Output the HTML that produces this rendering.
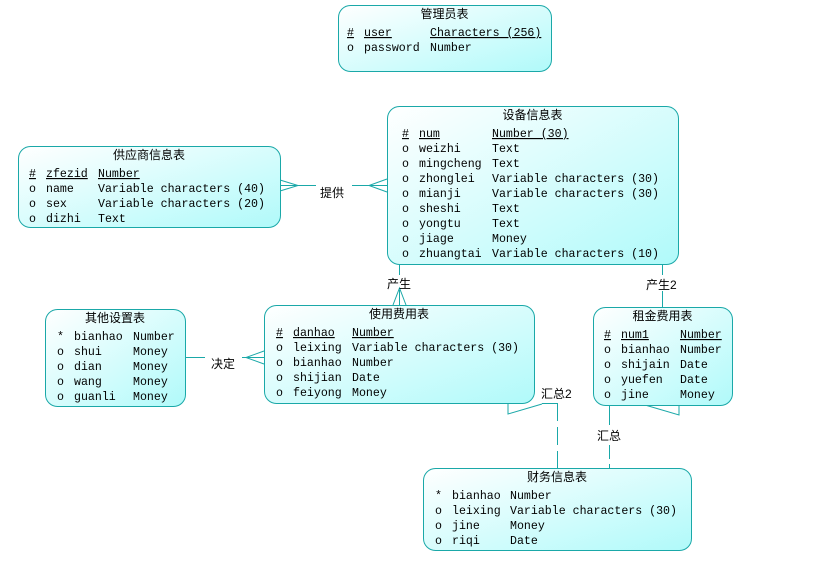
<!DOCTYPE html>
<html><head><meta charset="utf-8"><style>
html,body{margin:0;padding:0;background:#fff;width:815px;height:562px;overflow:hidden}
svg text{font-family:"Liberation Mono","Noto Sans CJK SC",monospace;font-size:11.6px;fill:#000}
svg text.t{font-family:"Liberation Sans","Noto Sans CJK SC",sans-serif;font-size:12px}
</style></head><body>
<svg id="s" width="815" height="562" xmlns="http://www.w3.org/2000/svg">
<defs><linearGradient id="g" x1="0" y1="0" x2="1" y2="1"><stop offset="0" stop-color="#ffffff"/><stop offset="1" stop-color="#b0fafa"/></linearGradient></defs>
<g stroke="#1aa8a8" fill="none" stroke-width="1">
<!-- 提供 -->
<line x1="280" y1="185.5" x2="316" y2="185.5"/><line x1="352" y1="185.5" x2="387" y2="185.5"/>
<polyline points="280,180 298,185.5 280,191"/><line x1="280" y1="185.5" x2="298" y2="185.5"/>
<polyline points="387,179 369,185.5 387,192"/>
<!-- 产生 -->
<line x1="399.5" y1="264" x2="399.5" y2="275"/><line x1="399.5" y1="290" x2="399.5" y2="305"/>
<polyline points="393,305 399.5,288 406,305"/>
<!-- 产生2 -->
<line x1="662.5" y1="264" x2="662.5" y2="275"/><line x1="662.5" y1="291" x2="662.5" y2="307"/>
<!-- 决定 -->
<line x1="185" y1="357.5" x2="205" y2="357.5"/><line x1="242" y1="357.5" x2="264" y2="357.5"/>
<polyline points="264,351 246,357.5 264,364"/>
<!-- 汇总2 -->
<polyline points="508,403 508,414 542,404"/><line x1="542" y1="403.5" x2="557" y2="403.5"/>
<line x1="557.5" y1="403" x2="557.5" y2="468" stroke-dasharray="18,6"/>
<!-- 汇总 -->
<line x1="609.5" y1="405" x2="609.5" y2="425"/><line x1="609.5" y1="445" x2="609.5" y2="468" stroke-dasharray="14,5"/>
<polyline points="645,405 679,415 679,405"/>
</g>
<text class="t" x="320" y="197">提供</text>
<text class="t" x="387" y="288">产生</text>
<text class="t" x="646" y="289">产生2</text>
<text class="t" x="211" y="368">决定</text>
<text class="t" x="541" y="398">汇总2</text>
<text class="t" x="597" y="440">汇总</text>
</svg>
<script>
var s=document.getElementById('s');
function E(x,y,w,h,title,cols,rows){
 var r='<rect x="'+(x+.5)+'" y="'+(y+.5)+'" width="'+w+'" height="'+h+'" rx="12" ry="12" fill="url(#g)" stroke="#1aa8a8"/>';
 r+='<text class="t" x="'+(x+w/2)+'" y="'+(y+13)+'" text-anchor="middle">'+title+'</text>';
 rows.forEach(function(rw,i){var yy=y+31+15*i;
  for(var k=0;k<3;k++){var u=(rw[0]=='#');
   r+='<text x="'+cols[k]+'" y="'+yy+'"'+(u?' text-decoration="underline"':'')+' xml:space="preserve">'+rw[k]+'</text>';
   if(u&&rw[k]!=''){}
  }});
 s.insertAdjacentHTML('beforeend',r);
}
E(338,5,213,66,'管理员表',[347,364,430],[['#','user','Characters (256)'],['o','password','Number']]);
E(387,106,291,158,'设备信息表',[402,419,492],[['#','num','Number (30)'],['o','weizhi','Text'],['o','mingcheng','Text'],['o','zhonglei','Variable characters (30)'],['o','mianji','Variable characters (30)'],['o','sheshi','Text'],['o','yongtu','Text'],['o','jiage','Money'],['o','zhuangtai','Variable characters (10)']]);
E(18,146,262,81,'供应商信息表',[29,46,98],[['#','zfezid','Number'],['o','name','Variable characters (40)'],['o','sex','Variable characters (20)'],['o','dizhi','Text']]);
E(45,309,140,97,'其他设置表',[57,74,133],[['*','bianhao','Number'],['o','shui','Money'],['o','dian','Money'],['o','wang','Money'],['o','guanli','Money']]);
E(264,305,270,98,'使用费用表',[276,293,352],[['#','danhao','Number'],['o','leixing','Variable characters (30)'],['o','bianhao','Number'],['o','shijian','Date'],['o','feiyong','Money']]);
E(593,307,139,98,'租金费用表',[604,621,680],[['#','num1','Number'],['o','bianhao','Number'],['o','shijain','Date'],['o','yuefen','Date'],['o','jine','Money']]);
E(423,468,268,82,'财务信息表',[435,452,510],[['*','bianhao','Number'],['o','leixing','Variable characters (30)'],['o','jine','Money'],['o','riqi','Date']]);
</script>
</body></html>
